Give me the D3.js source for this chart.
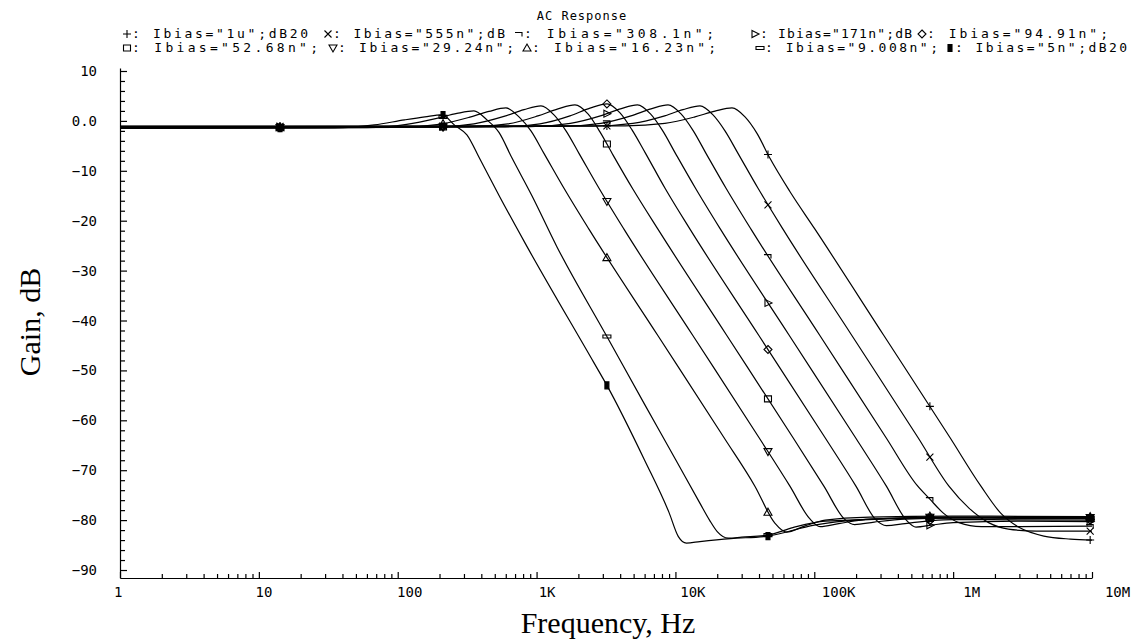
<!DOCTYPE html>
<html>
<head>
<meta charset="utf-8">
<script src="https://cdn.jsdelivr.net/npm/d3@7"></script>
<style>
  body { margin: 0; background: #fff; }
  svg { display: block; }
  .lbl { font-family: "DejaVu Sans Mono", monospace; font-size: 14px; fill: #000; }
  .leg { font-family: "DejaVu Sans Mono", monospace; font-size: 13px; fill: #000; }
  .title { font-family: "Times New Roman", "Liberation Serif", serif; font-size: 30px; fill: #000; }
</style>
</head>
<body>
<svg id="chart" width="1135" height="640"></svg>
<script>
// Bias currents, in legend order
var ibias = ["1u", "555n", "308.1n", "171n", "94.91n", "52.68n", "29.24n", "16.23n", "9.008n", "5n"];
var legendText = ['Ibias="1u";dB20', 'Ibias="555n";dB', 'Ibias="308.1n";', 'Ibias="171n";dB', 'Ibias="94.91n";',
                  'Ibias="52.68n";', 'Ibias="29.24n";', 'Ibias="16.23n";', 'Ibias="9.008n";', 'Ibias="5n";dB20'];
var markerTypes = ["plus", "cross", "hook", "triRight", "diamond", "square", "triDown", "triUp", "bar", "block"];

// Gain curves: [frequency Hz, gain dB]
var gain_1u = [[1,-1.05],[4343,-1.0],[8400,-0.5],[13820,0.8],[19270,1.95],[25550,2.6],[31700,0.8],[38670,-2.5],[47960,-7.5],[66890,-14.2],[101100,-21.7],[317000,-43],[951000,-63.5],[1.585e6,-73.2],[2.2e6,-78.6],[3e6,-81.5],[4.5e6,-83.2],[7e6,-83.8],[1e7,-84.0]];
var gain_555n = [[1,-1.1],[2555,-1.05],[4942,-0.5],[8131,0.9],[11340,2.25],[15030,3.0],[18650,1.2],[22750,-2.0],[28220,-6.5],[39350,-13.5],[59490,-21.7],[186500,-43],[559500,-63.5],[932500,-73.2],[1.3e6,-77.6],[1.8e6,-80.5],[2.5e6,-81.8],[4e6,-82.2],[1e7,-82.2]];
var gain_308n = [[1,-1.15],[1503,-1.1],[2907,-0.5],[4783,1.0],[6670,2.4],[8842,3.2],[10970,1.4],[13380,-1.9],[16600,-6.5],[23150,-13.5],[35000,-21.7],[109700,-43],[329100,-63.5],[548500,-73],[680000,-75.8],[850000,-78.6],[1.1e6,-80.5],[1.6e6,-81.3],[3e6,-81.3],[1e7,-81.2]];
var gain_171n = [[1,-1.2],[906,-1.15],[1752,-0.5],[2882,1.0],[4019,2.4],[5328,3.2],[6610,1.4],[8064,-1.9],[10000,-6.5],[13950,-13.5],[21090,-21.7],[66100,-43],[198300,-63.5],[330500,-73.2],[460000,-80.0],[540000,-81.4],[700000,-81.0],[1e6,-80.5],[3e6,-80.2],[1e7,-80.3]];
var gain_94n = [[1,-1.25],[547,-1.2],[1057,-0.6],[1740,1.0],[2426,2.55],[3216,3.4],[3990,1.6],[4868,-1.8],[6037,-6.3],[8419,-13.5],[12730,-21.7],[39900,-43],[119700,-63.5],[199500,-73.2],[277000,-79.9],[330000,-81.1],[450000,-80.7],[700000,-80.1],[1e6,-79.9],[1e7,-80.0]];
var gain_52n = [[1,-1.3],[321,-1.2],[621,-0.6],[1022,1.0],[1426,2.4],[1890,3.2],[2345,1.4],[2861,-2.2],[3548,-6.8],[4948,-13.7],[7480,-21.7],[23450,-43],[70350,-63.5],[117250,-73.2],[165000,-79.8],[195000,-80.9],[270000,-80.4],[450000,-79.8],[1e6,-79.6],[1e7,-79.7]];
var gain_29n = [[1,-1.35],[183,-1.25],[354,-0.6],[582,0.9],[812,2.25],[1076,3.0],[1335,1.2],[1629,-2.0],[2020,-6.5],[2817,-13.5],[4259,-21.7],[13350,-43],[40050,-63.5],[66750,-73.2],[92000,-79.6],[110000,-81.3],[150000,-80.7],[250000,-79.8],[1e6,-79.4],[1e7,-79.5]];
var gain_16n = [[1,-1.4],[102,-1.3],[198,-0.7],[326,0.7],[454,1.9],[602,2.6],[747,0.8],[911,-2.0],[1130,-6.5],[1576,-13.5],[2383,-21.7],[7470,-43],[22410,-63.5],[37350,-73.2],[52000,-80.6],[63000,-82.4],[85000,-81.2],[120000,-80.0],[250000,-79.4],[1e6,-79.2],[1e7,-79.3]];
var gain_9n = [[1,-1.45],[60,-1.35],[116,-0.7],[191,0.5],[267,1.5],[354,2.0],[439,0.2],[536,-2.3],[664,-7.4],[926,-15.0],[1400,-25.2],[3210,-43.2],[6000,-56.8],[10000,-67.8],[15000,-76.6],[17600,-80.0],[20000,-82.3],[24000,-83.6],[30000,-83.4],[46400,-83.0],[70000,-81.5],[120000,-80.2],[1e6,-79.5],[1e7,-79.6]];
var gain_5n = [[1,-1.5],[35,-1.4],[68,-0.8],[112,0.2],[157,0.8],[208,1.2],[258,-0.9],[315,-2.8],[390,-7.6],[545,-15.3],[823,-24.4],[2580,-48.4],[3210,-53.0],[6000,-68.0],[9000,-78.5],[10500,-83.3],[12000,-84.6],[15000,-84.3],[25000,-83.7],[46400,-83.2],[100000,-81.0],[200000,-80.0],[1e6,-79.5],[1e7,-79.6]];
var curves = [gain_1u, gain_555n, gain_308n, gain_171n, gain_94n, gain_52n, gain_29n, gain_16n, gain_9n, gain_5n];

// Frequencies where the markers sit on every curve
var markerFreqs = [14.2, 212, 3210, 46400, 680000, 9.7e6];

// Axis ticks
var freqTicks = [1, 10, 100, 1e3, 1e4, 1e5, 1e6, 1e7];
var freqLabels = ["1", "10", "100", "1K", "10K", "100K", "1M", "10M"];
var gainTicks = [10, 0, -10, -20, -30, -40, -50, -60, -70, -80, -90];
var gainLabels = ["10", "0.0", "\u221210", "\u221220", "\u221230", "\u221240", "\u221250", "\u221260", "\u221270", "\u221280", "\u221290"];

var svg = d3.select("#chart");

var x = d3.scaleLog().domain([1, 1e7]).range([120, 1092]);
var y = d3.scaleLinear().domain([-91.6, 10.6]).range([578, 68]);

// Minor tick values
var freqMinor = [];
freqTicks.slice(0, -1).forEach(function(d) {
    for (var k = 2; k < 10; k++) freqMinor.push(d * k);
});
var gainMinor = d3.range(-90, 11, 2).filter(function(v) { return v % 10 != 0; });

// Y axis, ticks pointing into the plot
svg.append("g")
    .attr("transform", "translate(120,0)")
    .call(d3.axisRight(y).tickValues(gainTicks).tickSize(7).tickSizeOuter(0).tickFormat(""));
svg.append("g")
    .attr("transform", "translate(120,0)")
    .call(d3.axisRight(y).tickValues(gainMinor).tickSize(5).tickFormat(""))
    .select(".domain").remove();

// X axis, ticks pointing up
svg.append("g")
    .attr("transform", "translate(0,578)")
    .call(d3.axisTop(x).tickValues(freqTicks).tickSize(6).tickSizeOuter(0).tickFormat(""));
svg.append("g")
    .attr("transform", "translate(0,578)")
    .call(d3.axisTop(x).tickValues(freqMinor).tickSize(4).tickFormat(""))
    .select(".domain").remove();

svg.selectAll(".domain, .tick line").attr("stroke", "#000").attr("stroke-width", 1.2);

// Tick labels
svg.append("g").selectAll("text").data(gainTicks)
    .enter().append("text")
    .attr("class", "lbl")
    .attr("x", 97)
    .attr("y", function(d) { return y(d); })
    .attr("dy", "0.36em")
    .attr("text-anchor", "end")
    .text(function(d, i) { return gainLabels[i]; });

svg.append("g").selectAll("text").data(freqTicks)
    .enter().append("text")
    .attr("class", "lbl")
    .attr("x", function(d, i) { return x(d) - 6 + i * 2.7; })
    .attr("y", 597)
    .text(function(d, i) { return freqLabels[i]; });

// Axis titles
svg.append("text").attr("class", "title")
    .attr("x", 608).attr("y", 633)
    .attr("text-anchor", "middle")
    .text("Frequency, Hz");
svg.append("text").attr("class", "title")
    .attr("transform", "translate(40,322) rotate(-90)")
    .attr("text-anchor", "middle")
    .text("Gain, dB");

// Chart title
svg.append("text").attr("class", "leg")
    .attr("x", 582).attr("y", 20)
    .attr("text-anchor", "middle")
    .style("font-size", "12px")
    .style("letter-spacing", "1px")
    .text("AC Response");

// Marker shapes
function markerPath(type) {
    switch (type) {
        case "plus": return "M-4,0H4M0,-4V4";
        case "cross": return "M-3.5,-3.5L3.5,3.5M-3.5,3.5L3.5,-3.5";
        case "hook": return "M-4,-1.5H3V2.5";
        case "triRight": return "M-3,-3.5L4,0L-3,3.5Z";
        case "diamond": return "M0,-4L4,0L0,4L-4,0Z";
        case "square": return "M-3.5,-3H3.5V3H-3.5Z";
        case "triDown": return "M-4,-3H4L0,4Z";
        case "triUp": return "M-4,3H4L0,-4Z";
        case "bar": return "M-4,-1.5H4V1.5H-4Z";
        case "block": return "M-2,-3.5H2V3.5H-2Z";
    }
}

function drawMarker(g, type, cx, cy) {
    g.append("path")
        .attr("d", markerPath(type))
        .attr("transform", "translate(" + cx + "," + cy + ")")
        .attr("fill", type == "block" ? "#000" : "none")
        .attr("stroke", "#000")
        .attr("stroke-width", 1.1);
}

// Curves
var line = d3.line()
    .x(function(d) { return x(d[0]); })
    .y(function(d) { return y(d[1]); })
    .curve(d3.curveMonotoneX);

var plot = svg.append("g");
var markers = svg.append("g");

curves.forEach(function(c, i) {
    var p = plot.append("path")
        .datum(c)
        .attr("d", line)
        .attr("fill", "none")
        .attr("stroke", "#000")
        .attr("stroke-width", 1.2);

    // find the y of the drawn curve at each marker frequency
    var node = p.node(), total = node.getTotalLength();
    markerFreqs.forEach(function(f) {
        var tx = x(f), lo = 0, hi = total;
        for (var n = 0; n < 40; n++) {
            var mid = (lo + hi) / 2;
            if (node.getPointAtLength(mid).x < tx) lo = mid; else hi = mid;
        }
        var pt = node.getPointAtLength(lo);
        drawMarker(markers, markerTypes[i], tx, pt.y);
    });
});

// Legend, two rows of five
var legX = [127, 328, 519, 755, 922, 127, 333, 527, 760, 950];
var legEnd = [308, 505, 714, 912, 1108, 318, 514, 716, 938, 1127];
var legend = svg.append("g");
ibias.forEach(function(b, i) {
    var ly = i < 5 ? 38 : 52;
    drawMarker(legend, markerTypes[i], legX[i], ly - 4);
    legend.append("text")
        .attr("class", "leg")
        .attr("x", legX[i] + 5)
        .attr("y", ly)
        .attr("textLength", legEnd[i] - legX[i] - 5)
        .attr("lengthAdjust", "spacing")
        .text(": " + legendText[i]);
});
</script>
</body>
</html>
